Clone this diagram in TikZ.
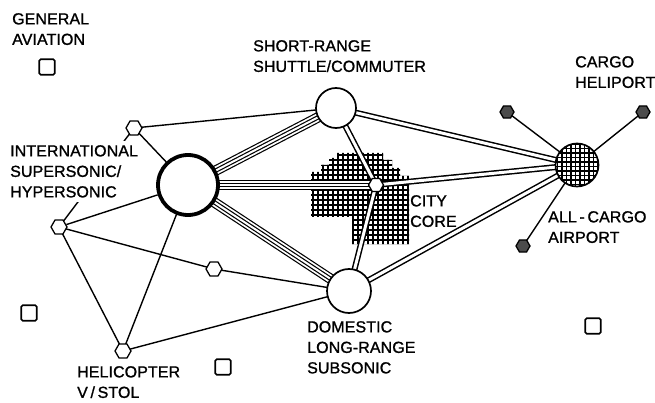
\documentclass[tikz,border=0pt]{standalone}
\usepackage{fontspec}
\setmainfont[LetterSpace=0.5,FakeBold=1.2]{Liberation Sans}
\usetikzlibrary{shapes.geometric,backgrounds}
\begin{document}
\begin{tikzpicture}[x=1pt,y=-1pt,
  hexo/.style={regular polygon, regular polygon sides=6, minimum size=16pt, inner sep=0pt, draw, line width=1.3pt, fill=white},
  hexf/.style={hexo, minimum size=14pt, fill=black!70},
  sqbox/.style={draw, line width=1.7pt, minimum size=15.5pt, inner sep=0pt, rounded corners=1.5pt},
  hub/.style={circle, draw, fill=white, inner sep=0pt, line width=1.7pt},
  lab/.style={align=left, inner sep=0pt, anchor=north west, font=\fontsize{16}{20.5}\selectfont},
  single/.style={line width=1.4pt},
  dbl/.style={draw=black, line width=6pt, postaction={draw=white, line width=3pt}},
  quad/.style={draw=black, line width=10.4pt, postaction={draw=white, line width=8pt}, postaction={draw=black, line width=4.4pt}, postaction={draw=white, line width=2pt}},
]
\useasboundingbox (0,0) rectangle (655,403);

% hubs and stations
\node[hub, line width=3.8pt, minimum size=60pt] (intl) at (188,185) {};
\node[hub, minimum size=40pt] (sr) at (336,108) {};
\node[hub, minimum size=44pt] (dom) at (349,291) {};
\node[hexo, minimum size=15pt] (city) at (376,185) {};
\node[hub, minimum size=43pt, path picture={
  \foreach \k in {-24,-19.5,...,24} {
    \draw[line width=1.1pt] ([xshift=\k pt]path picture bounding box.center) ++(0,-30) -- ++(0,60);
    \draw[line width=1.1pt] ([yshift=\k pt]path picture bounding box.center) ++(-30,0) -- ++(60,0);
  }}] (cargo) at (577,165) {};
\node[hexo] (h1) at (134,128) {};
\node[hexo] (h2) at (59,227) {};
\node[hexo] (h3) at (214,269) {};
\node[hexo] (heli) at (123,351) {};
\node[hexf] (ch1) at (507,112) {};
\node[hexf] (ch2) at (643,112) {};
\node[hexf] (ch3) at (523,246) {};
\node[sqbox] (s1) at (47,67) {};
\node[sqbox] (s2) at (29,313) {};
\node[sqbox] (s3) at (223,367) {};
\node[sqbox] (s4) at (593,326) {};

\begin{scope}[on background layer]
  % city core hatching
  \begin{scope}
    \clip (311,217) -- (311,172) -- (321,172) -- (321,165) -- (329,165) -- (329,158) -- (337,158) -- (337,153) -- (383,153) -- (383,160) -- (392,160) -- (392,168) -- (400,168) -- (400,176) -- (409,176) -- (409,244) -- (352,244) -- (352,217) -- cycle;
    \foreach \x in {313,318,...,408} \draw[line width=1.2pt] (\x,150) -- (\x,246);
    \foreach \y in {155,160,...,245} \draw[line width=1.2pt] (310,\y) -- (410,\y);
  \end{scope}
  % connectors
  \draw[quad] (intl.center) -- (sr.center);
  \draw[quad] (intl.center) -- (city.center);
  \draw[quad] (intl.center) -- (dom.center);
  \draw[dbl] (sr.center) -- (city.center);
  \draw[dbl] (dom.center) -- (city.center);
  \draw[dbl] (sr.center) -- (cargo.center);
  \draw[dbl] (city.center) -- (cargo.center);
  \draw[dbl] (dom.center) -- (cargo.center);
  \draw[single] (h1.center) -- (sr.center);
  \draw[single] (h1.center) -- (intl.center);
  \draw[single] (h1.center) -- (h2.center);
  \draw[single] (h2.center) -- (h3.center);
  \draw[single] (h3.center) -- (dom.center);
  \draw[single] (h2.center) -- (heli.center);
  \draw[single] (heli.center) -- (intl.center);
  \draw[single] (heli.center) -- (dom.center);
  \draw[single] (ch1.center) -- (cargo.center);
  \draw[single] (ch2.center) -- (cargo.center);
  \draw[single] (ch3.center) -- (cargo.center);
\end{scope}

% labels
\node[lab] (lga) at (12,13) {GENERAL\\AVIATION};
\node[lab] (lsr) at (253,40) {SHORT-RANGE\\SHUTTLE/COMMUTER};
\node[lab] (lch) at (575,56) {CARGO\\HELIPORT};
\node[lab, fill=white, inner xsep=1pt, inner ysep=4pt] (lint) at (9,141) {INTERNATIONAL\\SUPERSONIC/\\HYPERSONIC};
\node[lab] (lcity) at (410,195) {CITY\\CORE};
\node[lab] (lac) at (548,211) {ALL\,-\,CARGO\\AIRPORT};
\node[lab] (ldom) at (307,321) {DOMESTIC\\LONG-RANGE\\SUBSONIC};
\node[lab] (lheli) at (77,366) {HELICOPTER\\V\,/\,STOL};

% line drawn over the label box
\draw[single] (h2) -- (intl);
\end{tikzpicture}
\end{document}
